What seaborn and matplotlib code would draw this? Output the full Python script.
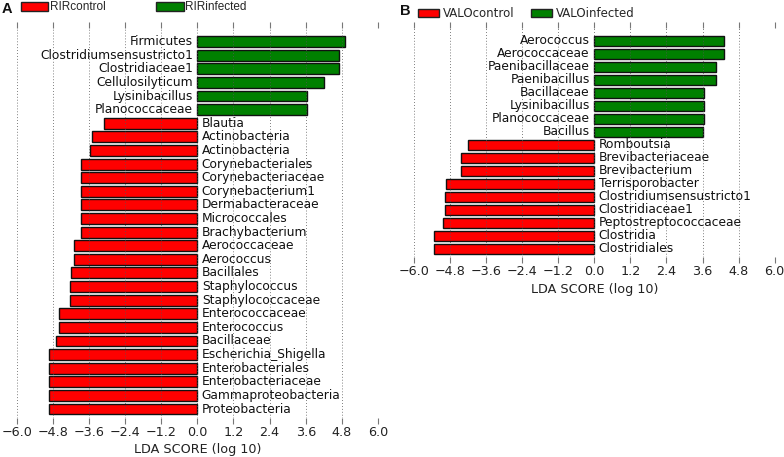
import matplotlib
matplotlib.use("Agg")
import matplotlib.pyplot as plt
import seaborn as sns
import pandas as pd
from matplotlib.patches import Patch

# ---------------- data ----------------
a_taxa = ["Firmicutes", "Clostridiumsensustricto1", "Clostridiaceae1", "Cellulosilyticum",
          "Lysinibacillus", "Planococcaceae",
          "Blautia", "Actinobacteria", "Actinobacteria", "Corynebacteriales",
          "Corynebacteriaceae", "Corynebacterium1", "Dermabacteraceae", "Micrococcales",
          "Brachybacterium", "Aerococcaceae", "Aerococcus", "Bacillales", "Staphylococcus",
          "Staphylococcaceae", "Enterococcaceae", "Enterococcus", "Bacillaceae",
          "Escherichia_Shigella", "Enterobacteriales", "Enterobacteriaceae",
          "Gammaproteobacteria", "Proteobacteria"]
a_scores = [4.92, 4.69, 4.69, 4.20, 3.64, 3.64,
            -3.09, -3.49, -3.55, -3.85, -3.85, -3.85, -3.87, -3.87, -3.87,
            -4.11, -4.11, -4.21, -4.22, -4.22, -4.60, -4.60, -4.69,
            -4.93, -4.93, -4.93, -4.93, -4.93]
a_groups = ["RIRcontrol", "RIRinfected"]

b_taxa = ["Aerococcus", "Aerococcaceae", "Paenibacillaceae", "Paenibacillus", "Bacillaceae",
          "Lysinibacillus", "Planococcaceae", "Bacillus",
          "Romboutsia", "Brevibacteriaceae", "Brevibacterium", "Terrisporobacter",
          "Clostridiumsensustricto1", "Clostridiaceae1", "Peptostreptococcaceae",
          "Clostridia", "Clostridiales"]
b_scores = [4.32, 4.32, 4.06, 4.06, 3.64, 3.64, 3.64, 3.62,
            -4.18, -4.44, -4.44, -4.93, -4.96, -4.96, -5.04, -5.32, -5.32]
b_groups = ["VALOcontrol", "VALOinfected"]

xticks = [-6.0, -4.8, -3.6, -2.4, -1.2, 0.0, 1.2, 2.4, 3.6, 4.8, 6.0]
xlabel = "LDA SCORE (log 10)"

RED = "#ff0000"
GREEN = "#008000"

sns.set_theme(style="white")
plt.rcParams["font.family"] = ["DejaVu Sans"]

W, H = 784, 457
fig = plt.figure(figsize=(W / 100, H / 100), dpi=100)


def px_axes(left, top, right, bottom):
    return fig.add_axes([left / W, 1 - bottom / H, (right - left) / W, (bottom - top) / H])


def draw_panel(ax, taxa, scores, groups, ylim, legend_kw, letter, letter_xy, legend_font):
    df = pd.DataFrame({
        "key": [f"k{i}" for i in range(len(taxa))],
        "taxon": taxa,
        "score": scores,
        "group": [groups[1] if s > 0 else groups[0] for s in scores],
    })
    sns.barplot(data=df, x="score", y="key", hue="group", orient="h",
                palette={groups[0]: RED, groups[1]: GREEN}, dodge=False,
                width=0.8, edgecolor="#111111", linewidth=1.0, legend=False,
                saturation=1, ax=ax, zorder=2)
    for i, row in df.iterrows():
        if row["score"] > 0:
            ax.annotate(row["taxon"], xy=(0, i), xytext=(-3.2, 0), textcoords="offset points",
                        ha="right", va="center", fontsize=8.8, color="#111111")
        else:
            ax.annotate(row["taxon"], xy=(0, i), xytext=(3.2, 0), textcoords="offset points",
                        ha="left", va="center", fontsize=8.8, color="#111111")
    ax.set_xlim(-6, 6)
    ax.set_ylim(*ylim)
    ax.set_xticks(xticks)
    ax.set_xticklabels([f"{t:.1f}".replace("-", "\u2212") for t in xticks], fontsize=9.2,
                       color="#222222")
    ax.set_yticks([])
    ax.set_ylabel("")
    ax.set_xlabel(xlabel, fontsize=9.2, color="#222222", labelpad=3)
    for s in ax.spines.values():
        s.set_visible(False)
    ax.tick_params(axis="x", bottom=True, top=True, direction="out", length=4,
                   width=0.8, color="#777777", pad=2)
    ax.tick_params(axis="x", which="major", top=True, labeltop=False)
    ax.xaxis.grid(True, linestyle=(0, (1, 2.5)), linewidth=0.6, color="#555555", zorder=5)
    ax.set_axisbelow(False)
    for gl in ax.get_xgridlines():
        gl.set_zorder(5)

    handles = [Patch(facecolor=RED, edgecolor="#222222", linewidth=1.0, label=groups[0]),
               Patch(facecolor=GREEN, edgecolor="#222222", linewidth=1.0, label=groups[1])]
    fig.legend(handles=handles, ncol=2, frameon=False,
               prop={"family": legend_font, "size": 8.5}, borderpad=0, borderaxespad=0,
               handleheight=0.75, **legend_kw)
    fig.text(letter_xy[0] / W, 1 - letter_xy[1] / H, letter, fontsize=10.5,
             fontweight="bold", family="Liberation Sans", ha="left", va="center",
             color="#111111")


axA = px_axes(16.7, 28, 378, 418)
draw_panel(axA, a_taxa, a_scores, a_groups, (27.66, -1.0),
           dict(loc="center left", bbox_to_anchor=(21 / W, 1 - 7.5 / H),
                handlelength=2.3, handletextpad=0.15, columnspacing=4.3),
           "A", (2, 9), "Liberation Sans")

axB = px_axes(413.7, 28, 774.7, 257)
draw_panel(axB, b_taxa, b_scores, b_groups, (16.62, -1.0),
           dict(loc="center left", bbox_to_anchor=(418 / W, 1 - 13.5 / H),
                handlelength=1.8, handletextpad=0.3, columnspacing=1.4),
           "B", (400, 11), "DejaVu Sans")

fig.savefig("out.png", dpi=100)
